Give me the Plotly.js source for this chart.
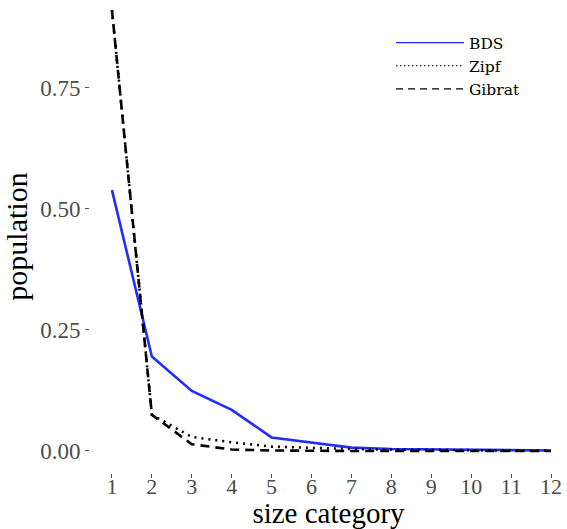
<!DOCTYPE html>
<html>
<head>
<meta charset="utf-8">
<script src="https://cdn.plot.ly/plotly-3.0.1.min.js"></script>
<style>
  html, body { margin: 0; padding: 0; background: #ffffff; }
  #chart { width: 567px; height: 529px; }
</style>
</head>
<body>
<div id="chart"></div>
<script>
// Size categories on the x axis
const sizeCategory = [1, 2, 3, 4, 5, 6, 7, 8, 9, 10, 11, 12];

// Population share per size category
const bds    = [0.539, 0.195, 0.124, 0.085, 0.028, 0.017, 0.007, 0.004, 0.003, 0.002, 0.001, 0.001];
const zipf   = [0.911, 0.075, 0.029, 0.018, 0.009, 0.006, 0.004, 0.003, 0.002, 0.002, 0.001, 0.001];
const gibrat = [0.911, 0.075, 0.014, 0.003, 0.001, 0.000, 0.000, 0.000, 0.000, 0.000, 0.000, 0.000];

const yTickVals = [0, 0.25, 0.5, 0.75];
const yTickText = ['0.00', '0.25', '0.50', '0.75'];

const serif = 'Liberation Serif';
const legendSerif = 'DejaVu Serif';

const traces = [
  { x: sizeCategory, y: bds, name: 'BDS', mode: 'lines', showlegend: false,
    line: { color: '#1f2fff', width: 2.6 } },
  { x: sizeCategory, y: zipf, name: 'Zipf', mode: 'lines', showlegend: false,
    line: { color: '#000000', width: 2.6, dash: '2px,5px' } },
  { x: sizeCategory, y: gibrat, name: 'Gibrat', mode: 'lines', showlegend: false,
    line: { color: '#000000', width: 2.6, dash: '9px,6px' } },
  // thin legend keys
  { x: [null], y: [null], name: 'BDS', mode: 'lines',
    line: { color: '#1f2fff', width: 1.2 } },
  { x: [null], y: [null], name: 'Zipf', mode: 'lines',
    line: { color: '#000000', width: 1.2, dash: '1.5px,2.5px' } },
  { x: [null], y: [null], name: 'Gibrat', mode: 'lines',
    line: { color: '#000000', width: 1.2, dash: '7px,5px' } }
];

const layout = {
  width: 567,
  height: 529,
  margin: { l: 90, r: 0, t: 0, b: 56 },
  paper_bgcolor: '#ffffff',
  plot_bgcolor: '#ffffff',
  font: { family: serif, color: '#000000' },
  xaxis: {
    range: [0.45, 12.4],
    tickvals: sizeCategory,
    ticktext: sizeCategory.map(String),
    showgrid: false, zeroline: false, showline: false,
    ticks: 'outside', ticklen: 4, tickwidth: 1, tickcolor: '#555555',
    ticklabelstandoff: -10,
    tickfont: { family: serif, size: 22, color: '#4d4d4d' },
    title: { text: 'size category', font: { family: serif, size: 29, color: '#000000' }, standoff: 8 }
  },
  yaxis: {
    range: [-0.0455, 0.9318],
    tickvals: yTickVals,
    ticktext: yTickText,
    showgrid: false, zeroline: false, showline: false,
    ticks: 'outside', ticklen: 4, tickwidth: 1, tickcolor: '#555555',
    tickfont: { family: serif, size: 23, color: '#4d4d4d' },
    title: { text: 'population', font: { family: serif, size: 30, color: '#000000' }, standoff: 3 }
  },
  legend: {
    x: 0.631, xanchor: 'left',
    y: 0.945, yanchor: 'top',
    bgcolor: 'rgba(0,0,0,0)',
    font: { family: legendSerif, size: 15.5, color: '#000000' },
    itemwidth: 68,
    tracegroupgap: 0
  }
};

Plotly.newPlot('chart', traces, layout, { displayModeBar: false, staticPlot: true });
</script>
</body>
</html>
